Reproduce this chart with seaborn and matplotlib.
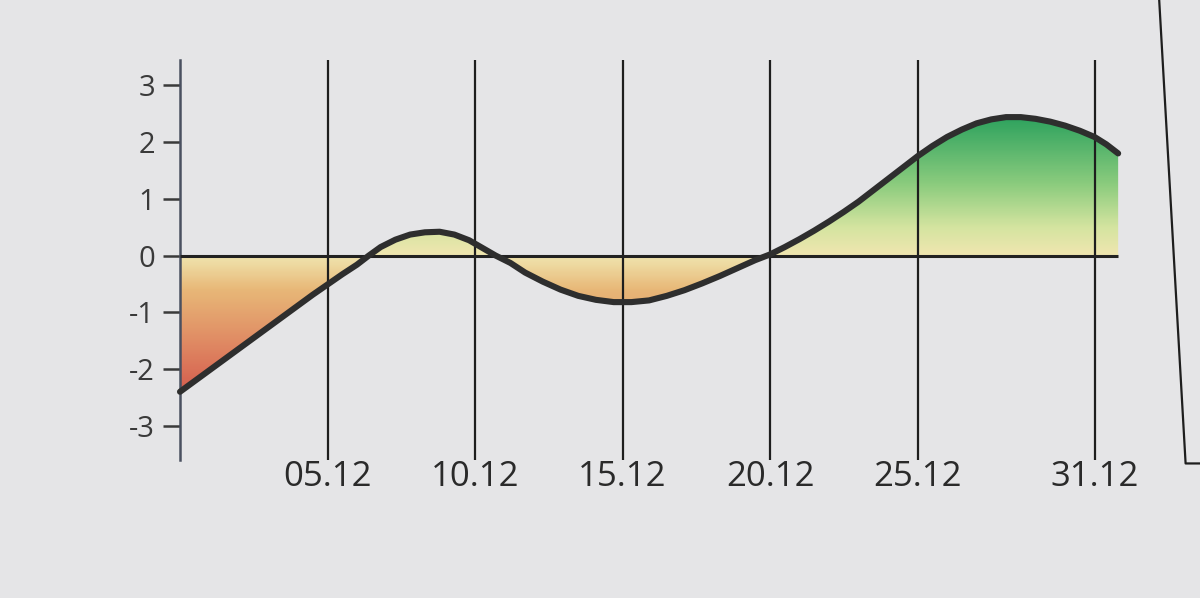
import numpy as np
import matplotlib
matplotlib.use("Agg")
import matplotlib.pyplot as plt
from matplotlib.colors import LinearSegmentedColormap, Normalize
from matplotlib.patches import Polygon
from matplotlib.lines import Line2D
import pandas as pd
import seaborn as sns

# --- data (day of December, value) ---
days = [0, 1, 2, 3, 4, 4.5, 5, 5.5, 6, 6.4, 6.8, 7.3, 7.8, 8.3, 8.8, 9.3, 9.8,
        10.3, 10.7, 11.2, 11.7, 12.3, 12.9, 13.5, 14.1, 14.7, 15.3, 15.9, 16.5,
        17.1, 17.7, 18.3, 18.9, 19.5, 20, 20.5, 21, 21.5, 22, 22.5, 23, 23.5,
        24, 24.5, 25, 25.5, 26, 26.5, 27, 27.5, 28, 28.5, 29, 29.5, 30, 30.5,
        31, 31.4, 31.8]
values = [-2.4, -2.02, -1.64, -1.26, -0.88, -0.69, -0.51, -0.33, -0.16, 0.0,
          0.15, 0.28, 0.37, 0.41, 0.42, 0.37, 0.27, 0.12, 0.0, -0.13, -0.3,
          -0.46, -0.6, -0.71, -0.78, -0.82, -0.82, -0.79, -0.71, -0.61, -0.49,
          -0.36, -0.22, -0.08, 0.02, 0.15, 0.29, 0.44, 0.6, 0.77, 0.95, 1.15,
          1.35, 1.55, 1.75, 1.93, 2.09, 2.22, 2.33, 2.4, 2.44, 2.44, 2.41, 2.36,
          2.29, 2.2, 2.09, 1.96, 1.8]
tick_days = [5, 10, 15, 20, 25, 31]
tick_labels = ["05.12", "10.12", "15.12", "20.12", "25.12", "31.12"]
y_ticks = [-3, -2, -1, 0, 1, 2, 3]

df = pd.DataFrame({"day": days, "value": values})

sns.set_theme(style="white")
plt.rcParams["font.family"] = ["Open Sans", "DejaVu Sans"]
plt.rcParams["axes.unicode_minus"] = False

paper = "#e5e5e7"
fig = plt.figure(figsize=(12, 5.98), dpi=100, facecolor=paper)
ax = fig.add_axes([0.15, 0.231, 0.799, 0.669], facecolor=paper)
xlim = (0, 32.5)
ylim = (-3.6, 3.45)
ax.set_xlim(*xlim)
ax.set_ylim(*ylim)

# gradient fill between curve and zero, clipped to the area
cmap = LinearSegmentedColormap.from_list("rg", [
    (0.0, "#d4584c"), (0.2, "#e08c64"), (0.38, "#e8b878"), (0.5, "#f0e6b0"),
    (0.6, "#d4e4a0"), (0.75, "#8ccc7e"), (1.0, "#28a05c")])
yy = np.linspace(ylim[0], ylim[1], 400).reshape(-1, 1)
im = ax.imshow(yy, extent=[xlim[0], xlim[1], ylim[0], ylim[1]], origin="lower",
               aspect="auto", cmap=cmap, norm=Normalize(-2.5, 2.5), zorder=1)
verts = list(zip(days, values)) + [(days[-1], 0), (days[0], 0)]
area = Polygon(verts, closed=True, facecolor="none", edgecolor="none",
               transform=ax.transData)
ax.add_patch(area)
im.set_clip_path(area)

# vertical date lines
for d in tick_days:
    ax.axvline(d, color="#1e1e1e", lw=1.6, zorder=2)

# zero line
ax.hlines(0, days[0], days[-1], color="#222222", lw=2.2, zorder=3)

# the curve
sns.lineplot(data=df, x="day", y="value", ax=ax, color="#2e2e2e", lw=4.4,
             zorder=4, solid_capstyle="round", solid_joinstyle="round")
ax.lines[-1].set_clip_on(False)

ax.set_xlabel("")
ax.set_ylabel("")
ax.set_xticks(tick_days)
ax.set_xticklabels(tick_labels)
ax.set_yticks(y_ticks)
ax.set_yticklabels([str(v) for v in y_ticks])
ax.tick_params(axis="x", length=0, pad=0, labelsize=25, labelcolor="#2a2a2a")
ax.tick_params(axis="y", direction="out", length=12, width=1.8, color="#3a3a3a",
               pad=6, labelsize=21, labelcolor="#3a3a3a", left=True)
for side in ["top", "right", "bottom"]:
    ax.spines[side].set_visible(False)
ax.spines["left"].set_color("#4a5060")
ax.spines["left"].set_linewidth(1.8)

# page frame line at the right edge
fig.add_artist(Line2D([0.966, 0.988, 0.988, 1.0], [1.0, 0.225, 0.225, 0.225],
                      transform=fig.transFigure, color="#1e1e1e", lw=1.6))

fig.savefig("out.png", dpi=100, facecolor=paper)
